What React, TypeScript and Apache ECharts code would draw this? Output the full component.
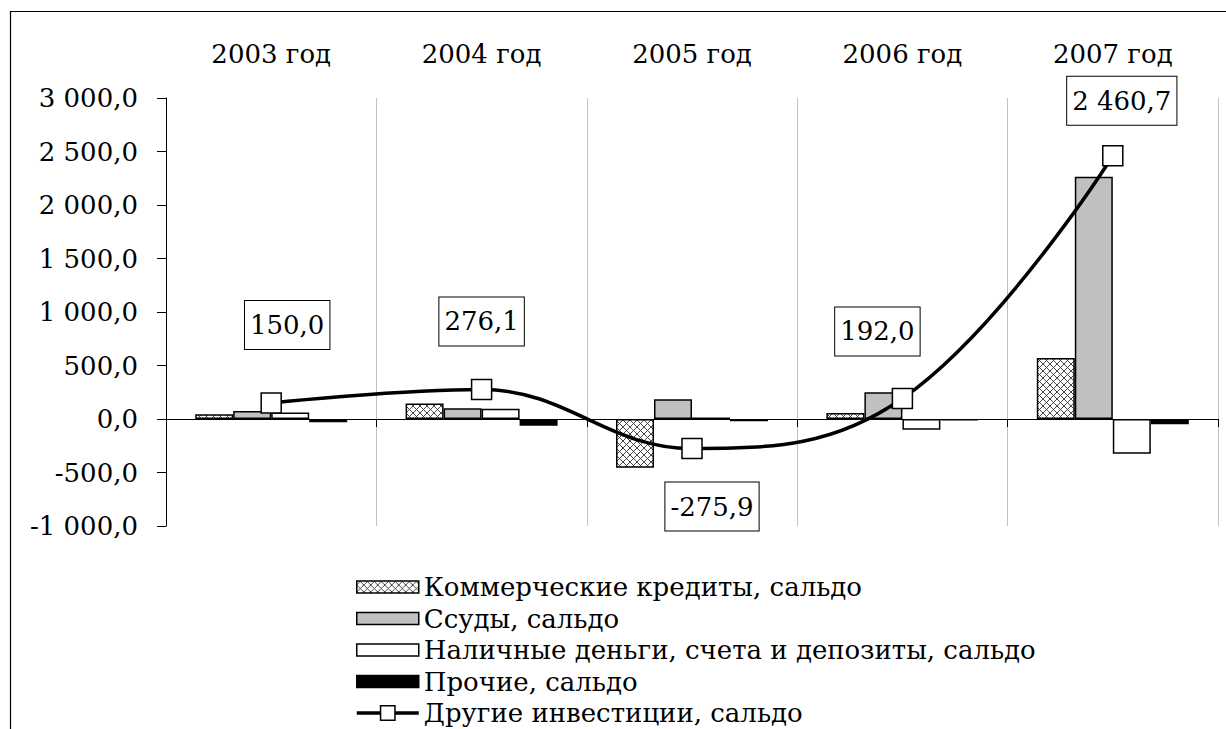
import React, { useEffect, useRef } from "react";
import * as echarts from "echarts";

const categories = ["2003 год", "2004 год", "2005 год", "2006 год", "2007 год"];
const commercialCredits = [45, 145, -455, 55, 570];
const loans = [75, 100, 185, 250, 2265];
const cashDeposits = [60, 95, 15, -100, -325];
const others = [-30, -64, -21, -13, -50];
const otherInvestments = [150.0, 276.1, -275.9, 192.0, 2460.7];
const labelOffsets: [number, number][] = [
  [16, -78],
  [0, -68],
  [20, 58],
  [-25, -67],
  [9, -55],
];
const seriesNames = [
  "Коммерческие кредиты, сальдо",
  "Ссуды, сальдо",
  "Наличные деньги, счета и депозиты, сальдо",
  "Прочие, сальдо",
  "Другие инвестиции, сальдо",
];

const FONT = "DejaVu Serif";
const FS = 26;

function fmt(v: number): string {
  const neg = v < 0;
  const s = Math.abs(v).toFixed(1);
  const [i, d] = s.split(".");
  const ig = i.replace(/\B(?=(\d{3})+(?!\d))/g, " ");
  return (neg ? "-" : "") + ig + "," + d;
}

function makeHatch(): HTMLCanvasElement {
  const c = document.createElement("canvas");
  const n = 7;
  c.width = n;
  c.height = n;
  const ctx = c.getContext("2d")!;
  ctx.fillStyle = "#ffffff";
  ctx.fillRect(0, 0, n, n);
  ctx.strokeStyle = "#333333";
  ctx.lineWidth = 0.9;
  ctx.beginPath();
  ctx.moveTo(0, 0);
  ctx.lineTo(n, n);
  ctx.moveTo(n, 0);
  ctx.lineTo(0, n);
  ctx.stroke();
  return c;
}

export default function App() {
  const ref = useRef<HTMLDivElement>(null);
  useEffect(() => {
    if (!ref.current) return;
    const chart = echarts.init(ref.current, undefined, { renderer: "svg" });
    const hatch = makeHatch();
    const barBorder = { borderColor: "#000", borderWidth: 1.5 };
    const barIcon = "path://M0 0H62V12H0Z";
    const option: any = {
      animation: false,
      backgroundColor: "#fff",
      textStyle: { fontFamily: FONT, color: "#000" },
      graphic: [
        {
          type: "rect",
          shape: { x: 10.5, y: 11.5, width: 1400, height: 900 },
          style: { fill: "none", stroke: "#000", lineWidth: 1.2 },
          silent: true,
        },
      ],
      grid: { left: 166, right: 8, top: 98, bottom: 203, containLabel: false },
      legend: {
        orient: "vertical",
        left: 355,
        top: 574,
        height: 400,
        padding: 0,
        itemWidth: 62,
        itemHeight: 18,
        itemGap: 5.5,
        textStyle: { fontFamily: FONT, fontSize: FS, color: "#000" },
        data: [
          { name: seriesNames[0], icon: barIcon, itemStyle: { borderColor: "#000", borderWidth: 1.5 } },
          { name: seriesNames[1], icon: barIcon, itemStyle: { borderColor: "#000", borderWidth: 1.5 } },
          { name: seriesNames[2], icon: barIcon, itemStyle: { borderColor: "#000", borderWidth: 1.5 } },
          { name: seriesNames[3], icon: barIcon, itemStyle: { borderColor: "#000", borderWidth: 1.5 } },
          { name: seriesNames[4], lineStyle: { width: 3.5, color: "#000" }, itemStyle: { color: "#fff", borderColor: "#000", borderWidth: 1.5 } },
        ],
      },
      xAxis: [
        {
          type: "category",
          data: categories,
          position: "bottom",
          axisLine: { onZero: true, lineStyle: { color: "#000", width: 1 } },
          axisTick: { show: true, length: 8, lineStyle: { color: "#000" } },
          axisLabel: { show: false },
          splitLine: { show: true, lineStyle: { color: "#c0c0c0", width: 1 } },
        },
        {
          type: "category",
          data: categories,
          position: "top",
          axisLine: { show: false },
          axisTick: { show: false },
          splitLine: { show: false },
          axisLabel: { margin: 31, fontFamily: FONT, fontSize: FS, color: "#000" },
        },
      ],
      yAxis: {
        type: "value",
        min: -1000,
        max: 3000,
        interval: 500,
        axisLine: { show: true, lineStyle: { color: "#000", width: 1 } },
        axisTick: { show: true, length: 9, lineStyle: { color: "#000" } },
        splitLine: { show: false },
        axisLabel: { margin: 28, fontFamily: FONT, fontSize: FS, color: "#000", formatter: (v: number) => fmt(v) },
      },
      series: [
        {
          name: seriesNames[0],
          type: "bar",
          data: commercialCredits,
          barWidth: 38,
          barGap: "0%",
          itemStyle: { color: { image: hatch, repeat: "repeat" }, ...barBorder },
        },
        {
          name: seriesNames[1],
          type: "bar",
          data: loans,
          barWidth: 38,
          barGap: "0%",
          itemStyle: { color: "#c0c0c0", ...barBorder },
        },
        {
          name: seriesNames[2],
          type: "bar",
          data: cashDeposits,
          barWidth: 38,
          barGap: "0%",
          itemStyle: { color: "#ffffff", ...barBorder },
        },
        {
          name: seriesNames[3],
          type: "bar",
          data: others,
          barWidth: 38,
          barGap: "0%",
          itemStyle: { color: "#000000", ...barBorder },
        },
        {
          name: seriesNames[4],
          type: "line",
          data: otherInvestments.map((v, i) => ({
            value: v,
            label: { offset: labelOffsets[i] },
          })),
          smooth: 0.4,
          z: 5,
          symbol: "rect",
          symbolSize: 20,
          lineStyle: { color: "#000", width: 3.5 },
          itemStyle: { color: "#fff", borderColor: "#000", borderWidth: 1.5 },
          label: {
            show: true,
            position: "inside",
            formatter: (p: any) => fmt(p.value),
            fontFamily: FONT,
            fontSize: FS,
            color: "#000",
            backgroundColor: "#fff",
            borderColor: "#000",
            borderWidth: 1,
            padding: [11, 5],
          },
        },
      ],
    };
    chart.setOption(option);
    return () => chart.dispose();
  }, []);
  return (
    <div
      ref={ref}
      style={{ position: "absolute", left: 0, top: 0, width: 1226, height: 729 }}
    />
  );
}
